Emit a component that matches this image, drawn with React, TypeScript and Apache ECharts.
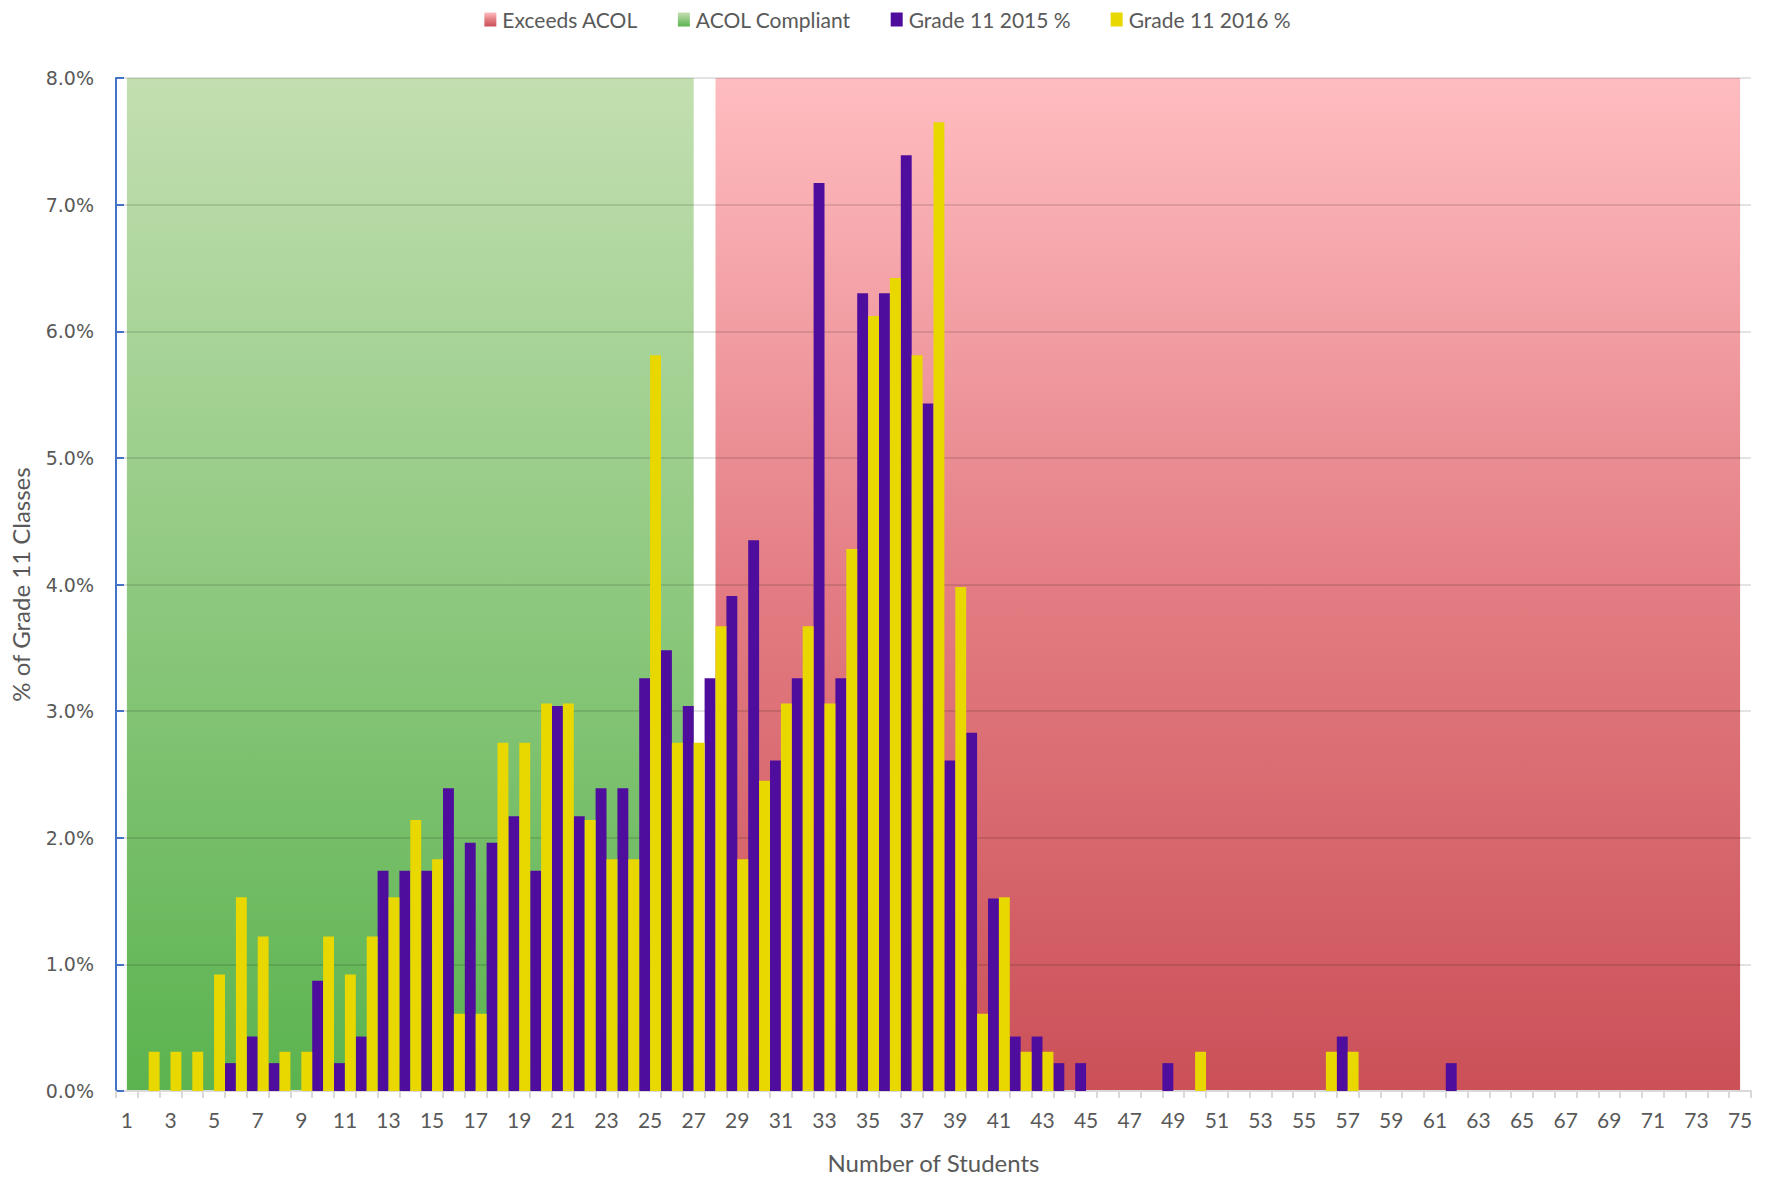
import React, { useEffect, useRef } from 'react';
import * as echarts from 'echarts';

const categories = [
  '1', '2', '3', '4', '5', '6', '7', '8', '9', '10',
  '11', '12', '13', '14', '15', '16', '17', '18', '19', '20',
  '21', '22', '23', '24', '25', '26', '27', '28', '29', '30',
  '31', '32', '33', '34', '35', '36', '37', '38', '39', '40',
  '41', '42', '43', '44', '45', '46', '47', '48', '49', '50',
  '51', '52', '53', '54', '55', '56', '57', '58', '59', '60',
  '61', '62', '63', '64', '65', '66', '67', '68', '69', '70',
  '71', '72', '73', '74', '75',
];

// % of classes, index 0 = 1 student
const grade2015 = [
  0, 0, 0, 0, 0, 0.22, 0.43, 0.22, 0, 0.87,
  0.22, 0.43, 1.74, 1.74, 1.74, 2.39, 1.96, 1.96, 2.17, 1.74,
  3.04, 2.17, 2.39, 2.39, 3.26, 3.48, 3.04, 3.26, 3.91, 4.35,
  2.61, 3.26, 7.17, 3.26, 6.30, 6.30, 7.39, 5.43, 2.61, 2.83,
  1.52, 0.43, 0.43, 0.22, 0.22, 0, 0, 0, 0.22, 0,
  0, 0, 0, 0, 0, 0, 0.43, 0, 0, 0,
  0, 0.22, 0, 0, 0, 0, 0, 0, 0, 0,
  0, 0, 0, 0, 0,
];

const grade2016 = [
  0, 0.31, 0.31, 0.31, 0.92, 1.53, 1.22, 0.31, 0.31, 1.22,
  0.92, 1.22, 1.53, 2.14, 1.83, 0.61, 0.61, 2.75, 2.75, 3.06,
  3.06, 2.14, 1.83, 1.83, 5.81, 2.75, 2.75, 3.67, 1.83, 2.45,
  3.06, 3.67, 3.06, 4.28, 6.12, 6.42, 5.81, 7.65, 3.98, 0.61,
  1.53, 0.31, 0.31, 0, 0, 0, 0, 0, 0, 0.31,
  0, 0, 0, 0, 0, 0.31, 0.31, 0, 0, 0,
  0, 0, 0, 0, 0, 0, 0, 0, 0, 0,
  0, 0, 0, 0, 0,
];

// Background bands (ACOL compliant: 1..27, exceeds: 28..75)
const acolCompliant = [
  8, 8, 8, 8, 8, 8, 8, 8, 8, 8,
  8, 8, 8, 8, 8, 8, 8, 8, 8, 8,
  8, 8, 8, 8, 8, 8, 8, null, null, null,
  null, null, null, null, null, null, null, null, null, null,
  null, null, null, null, null, null, null, null, null, null,
  null, null, null, null, null, null, null, null, null, null,
  null, null, null, null, null, null, null, null, null, null,
  null, null, null, null, null,
];

const exceedsAcol = [
  null, null, null, null, null, null, null, null, null, null,
  null, null, null, null, null, null, null, null, null, null,
  null, null, null, null, null, null, null, 8, 8, 8,
  8, 8, 8, 8, 8, 8, 8, 8, 8, 8,
  8, 8, 8, 8, 8, 8, 8, 8, 8, 8,
  8, 8, 8, 8, 8, 8, 8, 8, 8, 8,
  8, 8, 8, 8, 8, 8, 8, 8, 8, 8,
  8, 8, 8, 8, 8,
];

const yTicks = { min: 0, max: 8, interval: 1 };

const TEXT = '#595959';
const FONT = 'Lato, "Open Sans", sans-serif';

export default function App() {
  const ref = useRef<HTMLDivElement>(null);

  useEffect(() => {
    document.body.style.margin = '0';
    if (!ref.current) return;
    const chart = echarts.init(ref.current, null, { renderer: 'svg' });

    const greenGrad = () =>
      new echarts.graphic.LinearGradient(0, 0, 0, 1, [
        { offset: 0, color: '#c3dfb1' },
        { offset: 1, color: '#5bb34f' },
      ]);
    const redGrad = () =>
      new echarts.graphic.LinearGradient(0, 0, 0, 1, [
        { offset: 0, color: '#ffbdc1' },
        { offset: 0.5, color: '#e37d83' },
        { offset: 1, color: '#cb5058' },
      ]);

    chart.setOption({
      animation: false,
      backgroundColor: '#ffffff',
      textStyle: { fontFamily: FONT },
      legend: {
        top: 4,
        left: 'center',
        itemWidth: 12,
        itemHeight: 14,
        itemGap: 40,
        textStyle: { color: TEXT, fontSize: 21, fontFamily: FONT, padding: [0, 0, 0, 1] },
        data: [
          { name: 'Exceeds ACOL', icon: 'rect', itemStyle: { color: redGrad() } },
          { name: 'ACOL Compliant', icon: 'rect', itemStyle: { color: greenGrad() } },
          { name: 'Grade 11 2015 %', icon: 'rect', itemStyle: { color: '#4f0d9e' } },
          { name: 'Grade 11 2016 %', icon: 'rect', itemStyle: { color: '#e9d700' } },
        ],
      },
      grid: { left: 115, right: 24, top: 78, bottom: 90, containLabel: false },
      xAxis: {
        type: 'category',
        data: categories,
        boundaryGap: true,
        name: 'Number of Students',
        nameLocation: 'middle',
        nameGap: 59,
        nameTextStyle: { color: TEXT, fontSize: 24, fontFamily: FONT },
        axisLine: { show: true, lineStyle: { color: '#d9d9d9', width: 2 } },
        axisTick: { show: true, interval: 0, length: 7, lineStyle: { color: '#d9d9d9', width: 2 } },
        axisLabel: { interval: 1, color: TEXT, fontSize: 21, fontFamily: FONT, margin: 18 },
        splitLine: { show: false },
        z: 1,
      },
      yAxis: {
        type: 'value',
        min: yTicks.min,
        max: yTicks.max,
        interval: yTicks.interval,
        name: '% of Grade 11 Classes',
        nameLocation: 'middle',
        nameGap: 84,
        nameTextStyle: { color: TEXT, fontSize: 24, fontFamily: FONT },
        axisLine: { show: true, lineStyle: { color: '#4472c4', width: 2 } },
        axisTick: { show: true, inside: true, length: 8, lineStyle: { color: '#4472c4', width: 2 } },
        axisLabel: {
          color: TEXT,
          fontSize: 19,
          fontFamily: '"DejaVu Sans", Verdana, sans-serif',
          margin: 22,
          formatter: (v: number) => v.toFixed(1) + '%',
        },
        splitLine: { show: true, lineStyle: { color: 'rgba(0,0,0,0.15)', width: 1.5 } },
        z: 1,
      },
      series: [
        {
          name: 'Exceeds ACOL',
          type: 'line',
          data: exceedsAcol,
          showSymbol: false,
          symbol: 'none',
          connectNulls: false,
          lineStyle: { width: 0, color: '#e37d83' },
          itemStyle: { color: '#e37d83' },
          areaStyle: { color: redGrad(), opacity: 1 },
          z: 0,
          silent: true,
        },
        {
          name: 'ACOL Compliant',
          type: 'line',
          data: acolCompliant,
          showSymbol: false,
          symbol: 'none',
          connectNulls: false,
          lineStyle: { width: 0, color: '#8fc67c' },
          itemStyle: { color: '#8fc67c' },
          areaStyle: { color: greenGrad(), opacity: 1 },
          z: 0,
          silent: true,
        },
        {
          name: 'Grade 11 2015 %',
          type: 'bar',
          data: grade2015,
          barGap: '0%',
          barCategoryGap: '0%',
          itemStyle: { color: '#4f0d9e' },
          z: 2,
        },
        {
          name: 'Grade 11 2016 %',
          type: 'bar',
          data: grade2016,
          barGap: '0%',
          barCategoryGap: '0%',
          itemStyle: { color: '#e9d700' },
          z: 2,
        },
      ],
    });

    return () => chart.dispose();
  }, []);

  return <div ref={ref} style={{ width: 1775, height: 1181 }} />;
}
